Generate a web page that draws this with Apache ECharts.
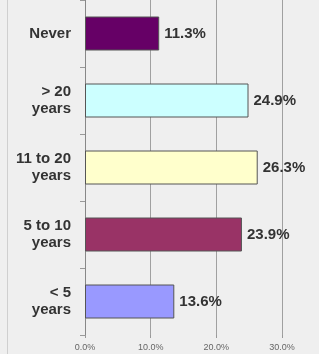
<!DOCTYPE html>
<html>
<head>
<meta charset="utf-8">
<script src="https://cdn.jsdelivr.net/npm/echarts@6/dist/echarts.min.js"></script>
<style>
  html, body { margin: 0; padding: 0; background: #efefef; }
  #chart { width: 319px; height: 354px; }
</style>
</head>
<body>
<div id="chart"></div>
<script>
const categories = ['Never', '> 20\nyears', '11 to 20\nyears', '5 to 10\nyears', '< 5\nyears']
const values = [11.3, 24.9, 26.3, 23.9, 13.6]
const barColors = ['#660066', '#ccffff', '#ffffcc', '#993366', '#9999ff']
const xTicks = [0, 10, 20, 30]

const chart = echarts.init(document.getElementById('chart'))
chart.setOption({
  backgroundColor: '#efefef',
  animation: false,
  grid: { left: 85, right: 37, top: 0, bottom: 19 },
  graphic: [{
    type: 'line',
    shape: { x1: 7.5, y1: 0, x2: 7.5, y2: 354 },
    style: { stroke: '#cfcfcf', lineWidth: 1 }
  }],
  xAxis: {
    type: 'value',
    min: xTicks[0],
    max: xTicks[xTicks.length - 1],
    interval: 10,
    axisLine: { show: false },
    axisTick: { show: true, length: 3, lineStyle: { color: '#999' } },
    splitLine: { show: true, lineStyle: { color: '#a0a0a0', width: 1 } },
    axisLabel: {
      margin: 8,
      fontFamily: 'Liberation Sans, Arial',
      fontSize: 9,
      color: '#666',
      formatter: v => v.toFixed(1) + '%'
    }
  },
  yAxis: {
    type: 'category',
    inverse: true,
    data: categories,
    axisLine: { show: true, lineStyle: { color: '#888' } },
    axisTick: { show: true, length: 5, lineStyle: { color: '#999' } },
    axisLabel: {
      margin: 14,
      fontFamily: 'Liberation Sans, Arial',
      fontSize: 15,
      fontWeight: 'bold',
      color: '#333',
      lineHeight: 17,
      align: 'right'
    }
  },
  series: [{
    type: 'bar',
    barWidth: 34,
    data: values.map((v, i) => ({
      value: v,
      itemStyle: { color: barColors[i], borderColor: '#555', borderWidth: 1 }
    })),
    label: {
      show: true,
      position: 'right',
      distance: 5,
      fontFamily: 'Liberation Sans, Arial',
      fontSize: 15,
      fontWeight: 'bold',
      color: '#333',
      formatter: p => p.value.toFixed(1) + '%'
    }
  }]
})
</script>
</body>
</html>
